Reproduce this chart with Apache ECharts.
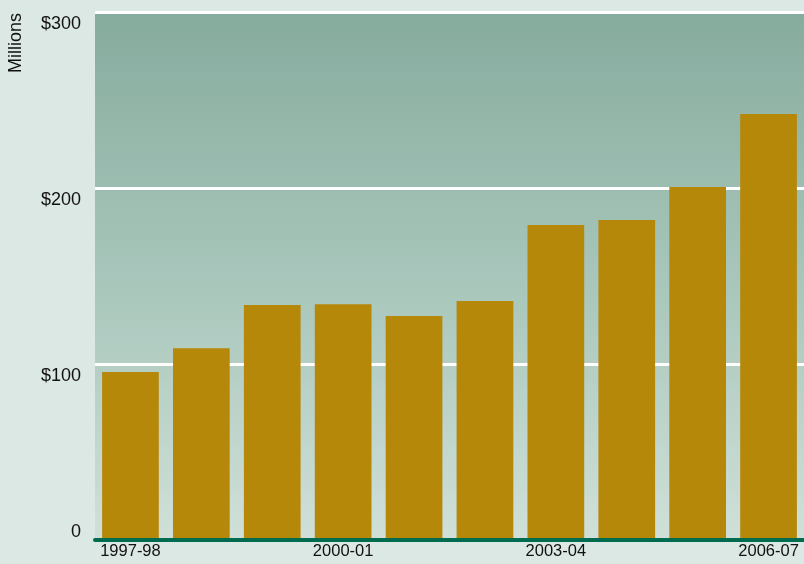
<!DOCTYPE html>
<html><head><meta charset="utf-8">
<script src="https://cdn.jsdelivr.net/npm/echarts@6/dist/echarts.min.js"></script>
<style>html,body{margin:0;padding:0;background:#dce8e3}#c{width:804px;height:564px}</style>
</head><body><div id="c"></div>
<script>
const categories = ['1997-98','1998-99','1999-00','2000-01','2001-02','2002-03','2003-04','2004-05','2005-06','2006-07'];
const values = [95.5, 109, 133.5, 134, 127.3, 135.8, 179, 181.8, 200.6, 242];
const yTicks = [0, 100, 200, 300];

const FONT = 'Liberation Sans, Arial, Helvetica, sans-serif';
const chart = echarts.init(document.getElementById('c'));
chart.setOption({
  backgroundColor: '#dce8e3',
  animation: false,
  textStyle: {fontFamily: FONT},
  graphic: [{
    type: 'text', x: 7, y: 73, rotation: Math.PI/2,
    style: {text: 'Millions', fontSize: 18, fill: '#111', fontFamily: FONT, textAlign: 'left', textVerticalAlign: 'top'}
  }],
  grid: {
    left: 95, right: -2, top: 12, bottom: 24, show: true, borderWidth: 0,
    backgroundColor: new echarts.graphic.LinearGradient(0,0,0,1,[
      {offset:0, color:'#86ac9e'},{offset:0.55, color:'#abc8bd'},{offset:1, color:'#d0e0d9'}])
  },
  xAxis: {
    type: 'category', data: categories, z: 5,
    axisLine: {show: true, lineStyle: {color: '#006b4f', width: 4}},
    axisTick: {show: false},
    axisLabel: {interval: 2, color: '#111', fontSize: 16.5, margin: 3, fontFamily: FONT}
  },
  yAxis: {
    type: 'value', min: 0, max: 300, interval: 100,
    axisLine: {show: false}, axisTick: {show: false},
    splitLine: {show: true, lineStyle: {color: '#ffffff', width: 3}},
    axisLabel: {
      color: '#111', fontSize: 18, margin: 14, fontFamily: FONT,
      formatter: v => v === 0 ? '{z|0}' : '{a|$' + v + '}',
      rich: {a: {fontSize: 18, padding: [24,0,0,0]}, z: {fontSize: 18, padding: [0,0,16,0]}}
    }
  },
  series: [{
    type: 'bar', data: values, barCategoryGap: '20%',
    itemStyle: {color: '#b5880a'}
  }]
});
</script></body></html>
